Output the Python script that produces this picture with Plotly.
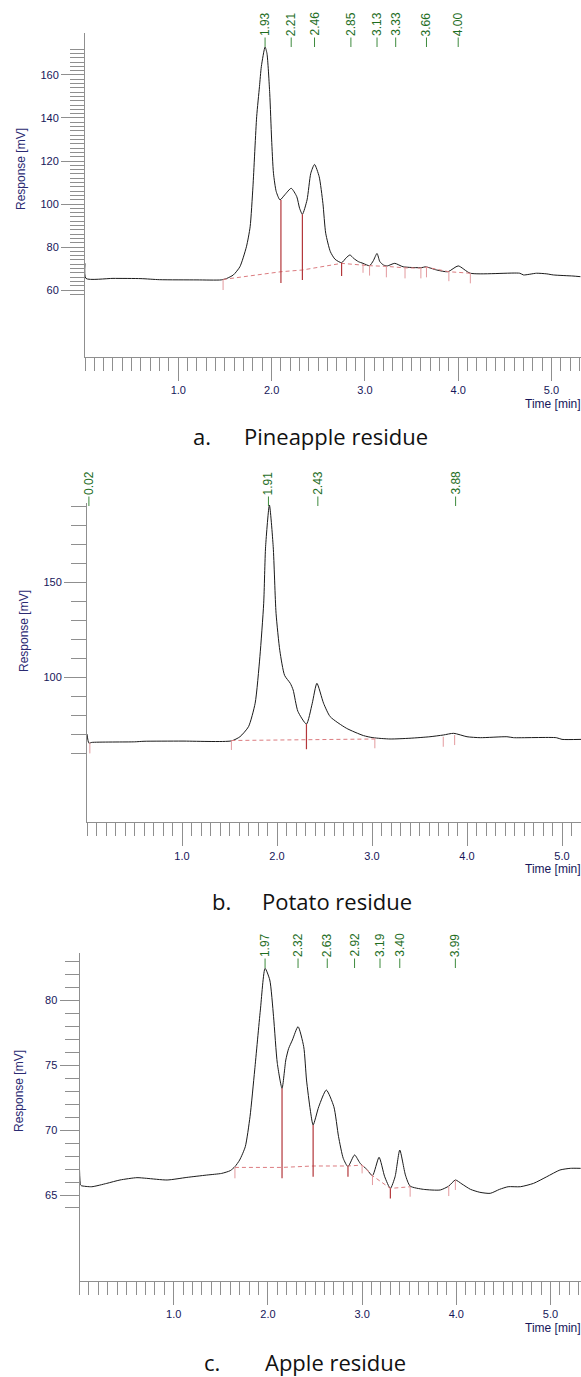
import plotly.graph_objects as go

W, H = 581, 1377

# ---------------- Panel a: Pineapple residue ----------------
a_time = [0.00, 0.01, 0.30, 0.60, 0.80, 1.20, 1.46, 1.52, 1.59, 1.66, 1.73, 1.77, 1.80,
          1.84, 1.87, 1.89, 1.93, 1.95, 1.98, 2.00, 2.02, 2.05, 2.09, 2.14, 2.21, 2.27,
          2.30, 2.33, 2.38, 2.42, 2.46, 2.51, 2.55, 2.58, 2.63, 2.68, 2.75, 2.80, 2.84,
          2.88, 2.93, 2.98, 3.05, 3.09, 3.13, 3.16, 3.20, 3.24, 3.32, 3.41, 3.61, 3.65,
          3.77, 3.89, 4.00, 4.13, 4.66, 4.70, 4.84, 4.95, 5.02, 5.23, 5.31]
a_resp = [72.4, 65.4, 65.4, 65.3, 64.8, 64.7, 64.7, 65.4, 67.0, 70.8, 80.1, 89.4, 108.0,
          140.6, 154.6, 163.9, 173.0, 170.1, 151.5, 130.2, 114.3, 105.7, 101.9, 104.2, 107.3, 103.4,
          98.0, 95.2, 101.9, 114.3, 118.4, 112.7, 100.3, 86.4, 77.8, 74.3, 72.7, 75.0, 76.3,
          74.7, 73.2, 72.4, 71.3, 73.6, 77.0, 73.2, 71.6, 71.2, 72.4, 70.8, 70.4, 70.8,
          69.3, 68.5, 71.2, 67.8, 67.8, 67.0, 67.8, 67.5, 67.0, 66.5, 66.2]
a_base_t = [1.48, 2.10, 2.33, 2.75, 3.05, 3.23, 3.43, 3.60, 3.66, 3.90, 4.13]
a_base_v = [64.9, 68.5, 69.3, 72.4, 71.3, 71.0, 70.3, 70.2, 70.6, 68.5, 67.8]
a_drop_t = [2.10, 2.33, 2.75]
a_drop_top = [101.9, 95.2, 72.7]
a_drop_bot = [63.3, 64.7, 66.5]
a_mark_t = [1.48, 2.98, 3.05, 3.23, 3.43, 3.60, 3.66, 3.90, 4.13]
a_mark_top = [64.7, 72.1, 71.3, 70.8, 70.1, 70.1, 70.8, 68.5, 67.8]
a_mark_bot = [60.0, 68.0, 66.7, 65.9, 65.4, 65.4, 65.9, 64.1, 63.1]
a_peaks = ["1.93", "2.21", "2.46", "2.85", "3.13", "3.33", "3.66", "4.00"]
a_yticks = [60, 80, 100, 120, 140, 160]

# ---------------- Panel b: Potato residue ----------------
b_time = [0.00, 0.02, 0.05, 0.50, 0.60, 1.00, 1.52, 1.61, 1.70, 1.77, 1.82, 1.86, 1.88,
          1.92, 1.96, 1.99, 2.03, 2.08, 2.14, 2.17, 2.22, 2.31, 2.37, 2.42, 2.49, 2.56,
          2.73, 2.91, 3.01, 3.19, 3.40, 3.61, 3.75, 3.86, 4.00, 4.14, 4.42, 4.49, 4.94,
          5.00, 5.20]
b_resp = [70.0, 65.2, 65.6, 65.9, 66.2, 66.3, 66.4, 68.6, 73.9, 86.3, 110.9, 139.1, 169.0,
          191.0, 169.0, 133.8, 114.0, 101.0, 96.8, 93.3, 82.0, 75.3, 86.0, 96.8, 86.3, 79.2,
          73.1, 69.2, 68.1, 67.4, 67.8, 68.6, 69.5, 70.4, 68.6, 68.1, 68.6, 68.1, 68.1,
          67.2, 67.2]
b_base_t = [1.52, 2.31, 3.03]
b_base_v = [66.6, 67.2, 67.4]
b_drop_t = [2.31]
b_drop_top = [75.3]
b_drop_bot = [62.0]
b_mark_t = [0.03, 1.52, 3.03, 3.75, 3.87]
b_mark_top = [65.5, 66.5, 67.8, 68.6, 69.5]
b_mark_bot = [59.8, 61.6, 62.5, 63.3, 64.2]
b_peaks = ["0.02", "1.91", "2.43", "3.88"]
b_yticks = [100, 150]

# ---------------- Panel c: Apple residue ----------------
c_time = [0.00, 0.01, 0.02, 0.13, 0.29, 0.43, 0.61, 0.71, 0.93, 1.14, 1.35, 1.51, 1.60,
          1.65, 1.70, 1.76, 1.81, 1.86, 1.92, 1.97, 2.02, 2.06, 2.10, 2.15, 2.19, 2.22,
          2.26, 2.32, 2.38, 2.41, 2.45, 2.48, 2.54, 2.62, 2.70, 2.75, 2.80, 2.85, 2.92,
          2.98, 3.05, 3.11, 3.18, 3.24, 3.30, 3.35, 3.40, 3.46, 3.51, 3.65, 3.83, 3.92,
          3.99, 4.06, 4.15, 4.25, 4.36, 4.46, 4.55, 4.68, 4.82, 4.96, 5.10, 5.21, 5.32]
c_resp = [67.0, 65.8, 65.72, 65.64, 65.9, 66.16, 66.34, 66.29, 66.16, 66.36, 66.54, 66.67, 66.88,
          67.19, 67.7, 68.73, 71.04, 74.65, 79.27, 82.49, 81.59, 78.76, 75.16, 73.23, 75.42, 76.3,
          76.96, 77.99, 76.45, 73.87, 71.56, 70.4, 71.82, 73.1, 71.82, 69.5, 67.83, 67.19, 68.09,
          67.44, 66.98, 66.49, 67.91, 66.41, 65.51, 66.41, 68.47, 66.54, 65.69, 65.44, 65.39, 65.69,
          66.16, 65.85, 65.44, 65.21, 65.13, 65.44, 65.64, 65.64, 65.9, 66.41, 66.93, 67.06, 67.06]
c_base_t = [1.65, 2.15, 2.48, 2.85, 3.00, 3.11, 3.30, 3.51]
c_base_v = [67.13, 67.13, 67.24, 67.24, 67.31, 66.49, 65.51, 65.64]
c_drop_t = [2.15, 2.48, 2.85, 3.30]
c_drop_top = [73.23, 70.4, 67.19, 65.51]
c_drop_bot = [66.29, 66.41, 66.41, 64.74]
c_mark_t = [1.65, 3.00, 3.11, 3.51, 3.92, 3.99]
c_mark_top = [67.13, 67.31, 66.49, 65.64, 65.69, 66.16]
c_mark_bot = [66.29, 66.67, 65.77, 64.87, 64.92, 65.39]
c_peaks = ["1.97", "2.32", "2.63", "2.92", "3.19", "3.40", "3.99"]
c_yticks = [65, 70, 75, 80]

x_major = [0, 0.5, 1.0, 1.5, 2.0, 2.5, 3.0, 3.5, 4.0, 4.5, 5.0]
x_labels = ["", "", "1.0", "", "2.0", "", "3.0", "", "4.0", "", "5.0"]
captions = [("a.", "Pineapple residue"), ("b.", "Potato residue"), ("c.", "Apple residue")]

# ---------------- layout geometry (pixels) ----------------
panels = [
    dict(t=a_time, r=a_resp, bt=a_base_t, bv=a_base_v, dt=a_drop_t, dtop=a_drop_top, dbot=a_drop_bot,
         mt=a_mark_t, mtop=a_mark_top, mbot=a_mark_bot, peaks=a_peaks, yt=a_yticks,
         yminor=list(range(58, 174, 2)), x0=85, xscale=93.3, ytop=33, ybot=357,
         yr=[28.84, 179.53], ymaj_len=23, ymin_len=14, lab_px=47,
         ytitle=(21, 169), tlab=(523, 404), cap_y=436, cap=(202, 242)),
    dict(t=b_time, r=b_resp, bt=b_base_t, bv=b_base_v, dt=b_drop_t, dtop=b_drop_top, dbot=b_drop_bot,
         mt=b_mark_t, mtop=b_mark_top, mbot=b_mark_bot, peaks=b_peaks, yt=b_yticks,
         yminor=list(range(60, 200, 10)), x0=87, xscale=95.0, ytop=503.3, ybot=822.3,
         yr=[23.4, 191.9], ymaj_len=22, ymin_len=15, lab_px=506,
         ytitle=(24, 631), tlab=(523, 869), cap_y=901, cap=(221, 260)),
    dict(t=c_time, r=c_resp, bt=c_base_t, bv=c_base_v, dt=c_drop_t, dtop=c_drop_top, dbot=c_drop_bot,
         mt=c_mark_t, mtop=c_mark_top, mbot=c_mark_bot, peaks=c_peaks, yt=c_yticks,
         yminor=list(range(64, 84, 1)), x0=79.5, xscale=94.2, ytop=953.3, ybot=1280.7,
         yr=[58.39, 83.65], ymaj_len=19, ymin_len=14, lab_px=968,
         ytitle=(19, 1091), tlab=(523, 1328), cap_y=1362, cap=(212, 263)),
]

AXIS_GRAY = "#8f8f8f"
NAVY = "#16165a"
GREEN = "#1f6e1f"
TICKFONT = dict(family="Liberation Sans, Arial", size=11, color=NAVY)

fig = go.Figure()
annotations = []

for i, p in enumerate(panels):
    n = "" if i == 0 else str(i + 1)
    xa, ya = "x" + n, "y" + n
    xmax = (W - p["x0"]) / p["xscale"]

    # chromatogram trace
    fig.add_trace(go.Scatter(x=p["t"], y=p["r"], mode="lines", xaxis=xa, yaxis=ya,
                             line=dict(color="#1a1a1a", width=1, shape="spline", smoothing=0.6),
                             hoverinfo="skip"))
    # dashed integration baseline
    fig.add_trace(go.Scatter(x=p["bt"], y=p["bv"], mode="lines", xaxis=xa, yaxis=ya,
                             line=dict(color="#dc7c80", width=1, dash="4px,3px"), hoverinfo="skip"))
    # dark drop lines
    dx, dy = [], []
    for t, top, bot in zip(p["dt"], p["dtop"], p["dbot"]):
        dx += [t, t, None]
        dy += [top, bot, None]
    fig.add_trace(go.Scatter(x=dx, y=dy, mode="lines", xaxis=xa, yaxis=ya,
                             line=dict(color="#b3363a", width=1.2), hoverinfo="skip"))
    # light peak start/end markers
    mx, my = [], []
    for t, top, bot in zip(p["mt"], p["mtop"], p["mbot"]):
        mx += [t, t, None]
        my += [top, bot, None]
    fig.add_trace(go.Scatter(x=mx, y=my, mode="lines", xaxis=xa, yaxis=ya,
                             line=dict(color="#e39a9e", width=1), hoverinfo="skip"))

    xaxis = dict(domain=[p["x0"] / W, 1.0], range=[0, xmax], anchor=ya,
                 showline=True, linecolor=AXIS_GRAY, linewidth=1,
                 ticks="outside", ticklen=23, tickcolor=AXIS_GRAY, tickwidth=1,
                 tickmode="array", tickvals=x_major, ticktext=x_labels,
                 minor=dict(tickmode="array", tickvals=[round(0.1 * k, 1) for k in range(0, 54)],
                            ticklen=13, tickcolor=AXIS_GRAY, tickwidth=1, ticks="outside", showgrid=False),
                 showgrid=False, zeroline=False, tickfont=TICKFONT, automargin=False)
    yaxis = dict(domain=[1 - p["ybot"] / H, 1 - p["ytop"] / H], range=p["yr"], anchor=xa,
                 showline=True, linecolor=AXIS_GRAY, linewidth=1,
                 ticks="outside", ticklen=p["ymaj_len"], tickcolor=AXIS_GRAY, tickwidth=1,
                 tickmode="array", tickvals=p["yt"], ticktext=[str(v) for v in p["yt"]],
                 minor=dict(tickmode="array", tickvals=p["yminor"], ticklen=p["ymin_len"],
                            tickcolor=AXIS_GRAY, tickwidth=1, ticks="outside", showgrid=False),
                 showgrid=False, zeroline=False, tickfont=TICKFONT, automargin=False)
    fig.update_layout(**{"xaxis" + n: xaxis, "yaxis" + n: yaxis})

    # peak retention-time labels
    for lab in p["peaks"]:
        annotations.append(dict(x=float(lab), xref=xa, y=1 - p["lab_px"] / H, yref="paper",
                                text=lab, textangle=-90, showarrow=True, arrowhead=0,
                                arrowwidth=1, arrowcolor="#3d8a3d", ax=0, ay=-23,
                                font=dict(family="Liberation Sans, Arial", size=12, color=GREEN)))
    # y axis title
    annotations.append(dict(x=p["ytitle"][0] / W, y=1 - p["ytitle"][1] / H, xref="paper", yref="paper",
                            text="Response [mV]", textangle=-90, showarrow=False,
                            xanchor="center", yanchor="middle",
                            font=dict(family="Liberation Sans, Arial", size=12, color="#2a2a72")))
    # time label
    annotations.append(dict(x=p["tlab"][0] / W, y=1 - p["tlab"][1] / H, xref="paper", yref="paper",
                            text="Time [min]", showarrow=False, xanchor="left", yanchor="middle",
                            font=dict(family="Liberation Sans, Arial", size=12, color=NAVY)))
    # caption
    letter, name = captions[i]
    annotations.append(dict(x=p["cap"][0] / W, y=1 - p["cap_y"] / H, xref="paper", yref="paper",
                            text=letter, showarrow=False, xanchor="center", yanchor="middle",
                            font=dict(family="Open Sans", size=22, color="#111111")))
    annotations.append(dict(x=p["cap"][1] / W, y=1 - p["cap_y"] / H, xref="paper", yref="paper",
                            text=name, showarrow=False, xanchor="left", yanchor="middle",
                            font=dict(family="Open Sans", size=22, color="#111111")))

fig.update_layout(width=W, height=H, margin=dict(l=0, r=0, t=0, b=0, pad=0),
                  plot_bgcolor="white", paper_bgcolor="white", showlegend=False,
                  annotations=annotations)

fig.write_html("out.html")
